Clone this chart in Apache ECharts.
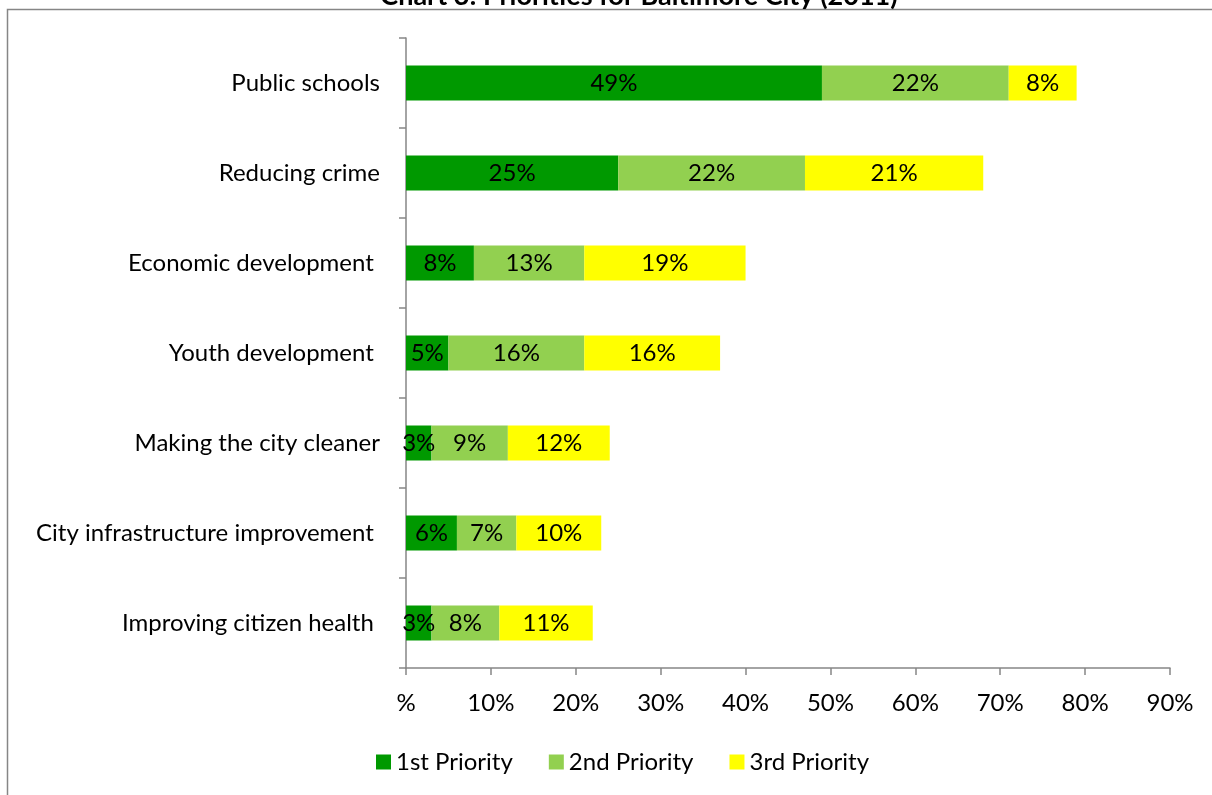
<!DOCTYPE html>
<html>
<head>
<meta charset="utf-8">
<script src="https://cdn.jsdelivr.net/npm/echarts@6/dist/echarts.min.js"></script>
<style>
  html, body { margin: 0; padding: 0; background: #fff; }
  #chart { width: 1212px; height: 795px; }
</style>
</head>
<body>
<div id="chart"></div>
<script>
// Survey priorities, share of respondents (%)
const categories = [
  'Public schools',
  'Reducing crime',
  'Economic development ',
  'Youth development ',
  'Making the city cleaner',
  'City infrastructure improvement ',
  'Improving citizen health '
];
const firstPriority  = [49, 25, 8, 5, 3, 6, 3];
const secondPriority = [22, 22, 13, 16, 9, 7, 8];
const thirdPriority  = [8, 21, 19, 16, 12, 10, 11];
const seriesNames = ['1st Priority', '2nd Priority', '3rd Priority'];
const xTicks = [0, 10, 20, 30, 40, 50, 60, 70, 80, 90];

const FONT = 'Lato, "Open Sans", sans-serif';
const FS = 24;
const AXIS_GRAY = '#868686';
const colors = ['#009900', '#92D050', '#FFFF00'];

const chart = echarts.init(document.getElementById('chart'));

const label = {
  show: true,
  position: 'inside',
  color: '#000',
  fontFamily: FONT,
  fontSize: FS,
  formatter: p => p.value + '%'
};

function barSeries(name, data, color) {
  return {
    name: name,
    type: 'bar',
    stack: 'total',
    data: data,
    barWidth: 35,
    itemStyle: { color: color },
    label: label,
    emphasis: { disabled: true }
  };
}

chart.setOption({
  animation: false,
  textStyle: { fontFamily: FONT },
  title: {
    text: 'Chart 3: Priorities for Baltimore City (2011)',
    left: 634,
    textAlign: 'center',
    top: -22,
    textStyle: { fontFamily: FONT, fontSize: 27, fontWeight: 'bold', color: '#000' }
  },
  graphic: [{
    type: 'rect',
    z: -10,
    shape: { x: 7.5, y: 9.5, width: 1240, height: 820 },
    style: { fill: 'none', stroke: AXIS_GRAY, lineWidth: 1.5 }
  }],
  legend: {
    data: seriesNames,
    bottom: 16,
    left: 371,
    itemWidth: 15,
    itemHeight: 15,
    itemGap: 36,
    icon: 'rect',
    textStyle: { fontFamily: FONT, fontSize: FS, color: '#000' }
  },
  grid: { left: 406, top: 38, right: 42, bottom: 127, containLabel: false },
  xAxis: {
    type: 'value',
    min: xTicks[0],
    max: xTicks[xTicks.length - 1],
    interval: 10,
    splitLine: { show: false },
    axisLine: { show: true, lineStyle: { color: AXIS_GRAY, width: 1.5 } },
    axisTick: { show: true, length: 7, lineStyle: { color: AXIS_GRAY, width: 1.5 } },
    axisLabel: {
      color: '#000',
      fontSize: FS,
      fontFamily: FONT,
      margin: 23,
      formatter: v => (v === 0 ? '%' : v + '%')
    }
  },
  yAxis: {
    type: 'category',
    data: categories,
    inverse: true,
    axisLine: { show: true, lineStyle: { color: AXIS_GRAY, width: 1.5 } },
    axisTick: { show: true, length: 7, alignWithLabel: false, lineStyle: { color: AXIS_GRAY, width: 1.5 } },
    axisLabel: { color: '#000', fontSize: FS, fontFamily: FONT, margin: 26 }
  },
  series: [
    barSeries(seriesNames[0], firstPriority, colors[0]),
    barSeries(seriesNames[1], secondPriority, colors[1]),
    barSeries(seriesNames[2], thirdPriority, colors[2])
  ]
});
</script>
</body>
</html>
